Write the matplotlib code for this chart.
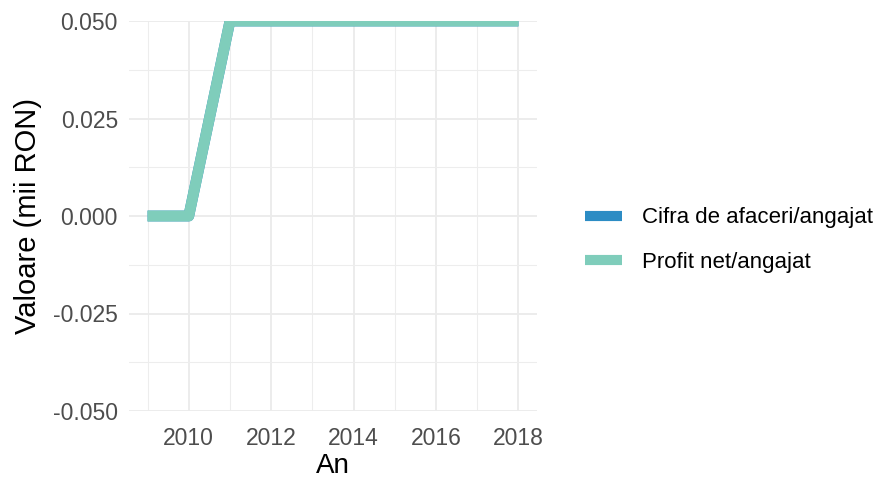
import matplotlib
matplotlib.use("Agg")
import matplotlib.pyplot as plt
from matplotlib.ticker import MultipleLocator, FixedLocator
from matplotlib.lines import Line2D

plt.rcParams['font.family'] = ['Liberation Sans', 'DejaVu Sans']

years = [2009, 2010, 2011, 2012, 2013, 2014, 2015, 2016, 2017, 2018]
cifra_afaceri = [0.0, 0.0, 0.05, 0.05, 0.05, 0.05, 0.05, 0.05, 0.05, 0.05]
profit_net = [0.0, 0.0, 0.05, 0.05, 0.05, 0.05, 0.05, 0.05, 0.05, 0.05]
series_names = ["Cifra de afaceri/angajat", "Profit net/angajat"]
colors = ["#2c8cc4", "#7fcdbb"]
y_ticks = [-0.05, -0.025, 0.0, 0.025, 0.05]
y_tick_labels = ["-0.050", "-0.025", "0.000", "0.025", "0.050"]
x_ticks = [2010, 2012, 2014, 2016, 2018]

fig = plt.figure(figsize=(8.85, 4.8), dpi=100)
W, H = 885, 480
ax = fig.add_axes([129 / W, 1 - 411 / H, (537 - 129) / W, (411 - 21) / H])

for vals, c in zip([cifra_afaceri, profit_net], colors):
    ax.plot(years, vals, color=c, lw=7.8, solid_capstyle='butt',
            solid_joinstyle='round', zorder=3)

ax.set_xlim(2008.55, 2018.45)
ax.set_ylim(-0.05, 0.05)
ax.set_yticks(y_ticks)
ax.set_yticklabels(y_tick_labels)
ax.set_xticks(x_ticks)
ax.xaxis.set_minor_locator(MultipleLocator(1))
ax.yaxis.set_minor_locator(FixedLocator([-0.0375, -0.0125, 0.0125, 0.0375]))

ax.grid(which='major', color='#ebebeb', lw=1.3)
ax.grid(which='minor', color='#ededed', lw=0.8)
ax.set_axisbelow(True)
for s in ax.spines.values():
    s.set_visible(False)
ax.tick_params(which='both', length=0)
ax.tick_params(axis='both', labelsize=16.5, labelcolor='#4d4d4d')
ax.tick_params(axis='x', pad=11.5)
ax.tick_params(axis='y', pad=8)

ax.set_xlabel("An", fontsize=20, color='black', labelpad=2.5)
ax.set_ylabel("Valoare (mii RON)", fontsize=21, color='black', labelpad=8)

handles = [Line2D([0], [0], color=c, lw=7.3, solid_capstyle='butt') for c in colors]
fig.legend(handles, series_names, loc='center left', bbox_to_anchor=(565 / W, 1 - 240 / H),
           frameon=False, fontsize=16, handlelength=1.65, handletextpad=0.9,
           labelspacing=1.05)

fig.savefig("out.png", dpi=100)
